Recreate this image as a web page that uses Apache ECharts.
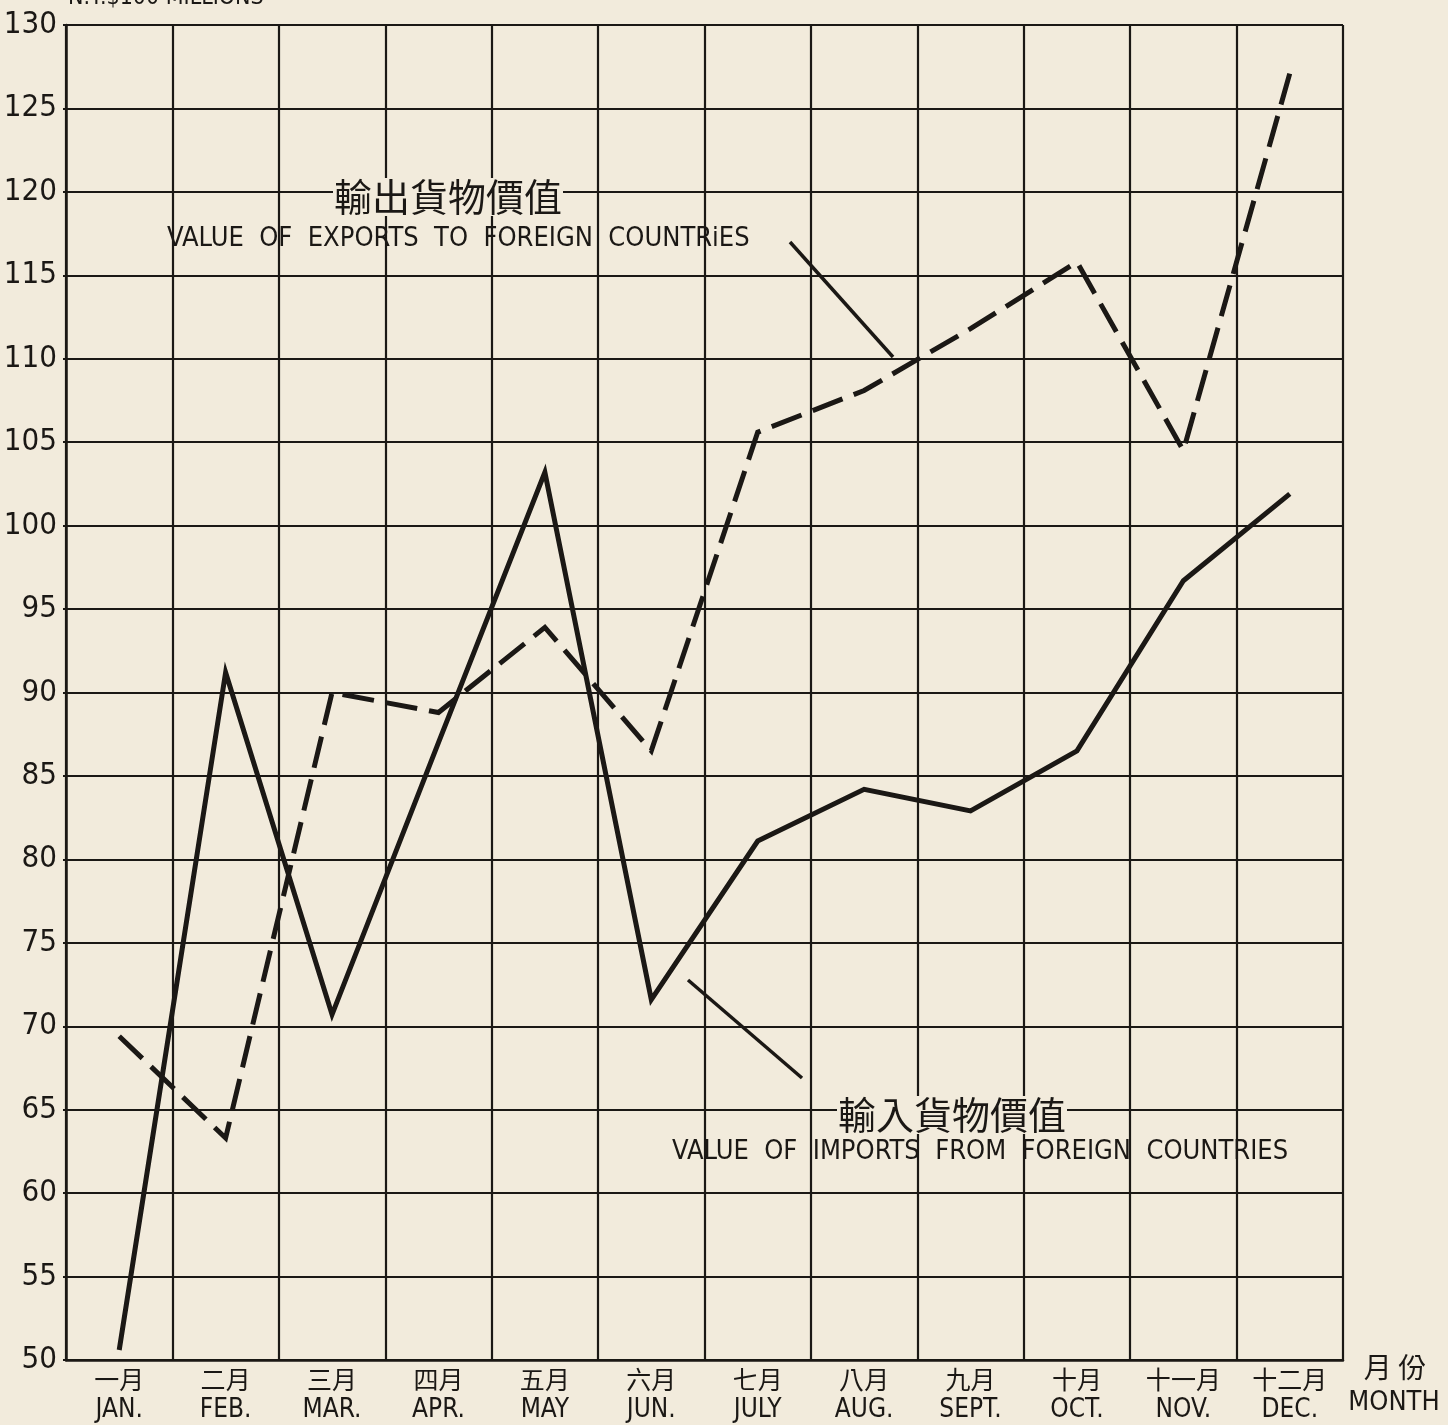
<!DOCTYPE html>
<html>
<head>
<meta charset="utf-8">
<script src="https://cdn.jsdelivr.net/npm/echarts@6/dist/echarts.min.js"></script>
<style>
html,body{margin:0;padding:0;background:#f2ebdc;}
#chart{width:1448px;height:1425px;}
</style>
</head>
<body>
<div id="chart"></div>
<script>
// ---- data ----
const monthsZh = ['一月','二月','三月','四月','五月','六月','七月','八月','九月','十月','十一月','十二月'];
const monthsEn = ['JAN.','FEB.','MAR.','APR.','MAY','JUN.','JULY','AUG.','SEPT.','OCT.','NOV.','DEC.'];
const exportsValue = [69.4, 63.3, 90.0, 88.8, 93.9, 86.5, 105.6, 108.1, 111.8, 115.8, 104.5, 127.1];
const importsValue = [50.6, 91.2, 70.7, 87.0, 103.2, 71.6, 81.1, 84.2, 82.9, 86.5, 96.7, 101.9];
const yMin = 50, yMax = 130, yStep = 5;

const INK = '#1b1815';
const PAPER = '#f2ebdc';
const NARROW = "'Liberation Sans Narrow','DejaVu Sans Condensed','Arial Narrow',sans-serif";
const CJK = "'Noto Sans CJK TC','Noto Sans CJK SC',sans-serif";

const chart = echarts.init(document.getElementById('chart'), null, {renderer:'canvas'});
const option = {
  backgroundColor: PAPER,
  animation: false,
  grid: {left: 66, right: 105, top: 25, bottom: 65, containLabel: false},
  xAxis: {
    type: 'category',
    data: monthsEn,
    boundaryGap: true,
    axisLine: {show: true, lineStyle: {color: INK, width: 2.5}},
    axisTick: {show: false},
    splitLine: {show: true, interval: 0, lineStyle: {color: INK, width: 2.2}},
    axisLabel: {
      interval: 0,
      margin: 3,
      formatter: function (v, i) { return '{zh|' + monthsZh[i] + '}\n{en|' + v + '}'; },
      rich: {
        zh: {fontFamily: CJK, fontSize: 25, lineHeight: 32, color: INK},
        en: {fontFamily: NARROW, fontSize: 26, lineHeight: 30, color: INK}
      }
    }
  },
  yAxis: {
    type: 'value',
    min: yMin, max: yMax, interval: yStep,
    axisLine: {show: true, lineStyle: {color: INK, width: 2.5}},
    axisTick: {show: true, length: 3, lineStyle: {color: INK, width: 2}},
    splitLine: {show: true, lineStyle: {color: INK, width: 2.2}},
    axisLabel: {margin: 9, fontFamily: NARROW, fontSize: 31, color: INK}
  },
  series: [
    {
      name: 'exports', type: 'line', data: exportsValue, symbol: 'none',
      lineStyle: {color: INK, width: 5, type: [32, 12], join: 'miter'}, z: 5
    },
    {
      name: 'imports', type: 'line', data: importsValue, symbol: 'none',
      lineStyle: {color: INK, width: 5, join: 'miter'}, z: 6
    }
  ],
  graphic: [
    {type: 'text', x: 68, y: 10, style: {text: 'N.T.$100 MILLIONS', font: '23px ' + NARROW, fill: INK, textAlign: 'left', textVerticalAlign: 'bottom'}},
    {type: 'text', x: 448, y: 197, z: 10, style: {text: '輸出貨物價值', font: '38px ' + CJK, fill: INK, textAlign: 'center', textVerticalAlign: 'middle', backgroundColor: PAPER, padding: [0, 1]}},
    {type: 'text', x: 167, y: 239, z: 10, style: {text: 'VALUE  OF  EXPORTS  TO  FOREIGN  COUNTRiES', font: '27px ' + NARROW, fill: INK, textAlign: 'left', textVerticalAlign: 'middle'}},
    {type: 'line', z: 10, shape: {x1: 790, y1: 242, x2: 893, y2: 357}, style: {stroke: INK, lineWidth: 3.5}},
    {type: 'text', x: 952, y: 1115, z: 10, style: {text: '輸入貨物價值', font: '38px ' + CJK, fill: INK, textAlign: 'center', textVerticalAlign: 'middle', backgroundColor: PAPER, padding: [0, 1]}},
    {type: 'text', x: 672, y: 1152, z: 10, style: {text: 'VALUE  OF  IMPORTS  FROM  FOREIGN  COUNTRIES', font: '27px ' + NARROW, fill: INK, textAlign: 'left', textVerticalAlign: 'middle'}},
    {type: 'line', z: 10, shape: {x1: 688, y1: 980, x2: 802, y2: 1078}, style: {stroke: INK, lineWidth: 3.5}},
    {type: 'text', x: 1395, y: 1367, style: {text: '月 份', font: '28px ' + CJK, fill: INK, textAlign: 'center', textVerticalAlign: 'middle'}},
    {type: 'text', x: 1394, y: 1403, style: {text: 'MONTH', font: '27px ' + NARROW, fill: INK, textAlign: 'center', textVerticalAlign: 'middle'}}
  ]
};
chart.setOption(option);
</script>
</body>
</html>
